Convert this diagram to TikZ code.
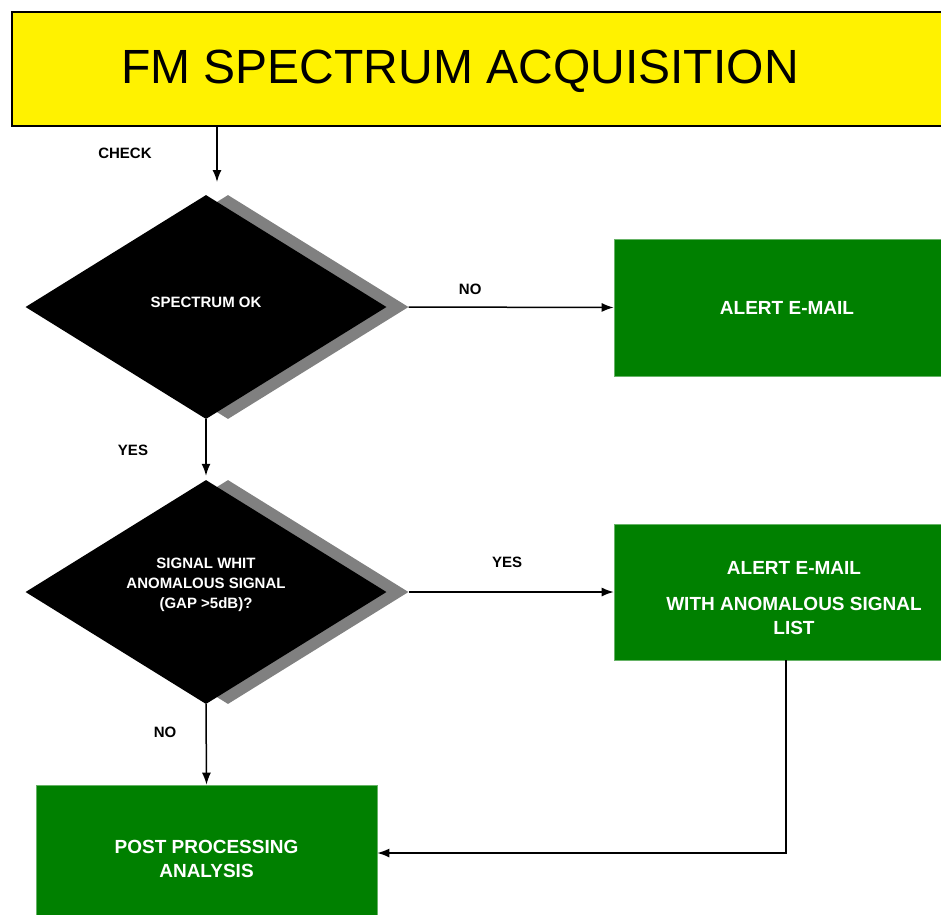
\documentclass[tikz,border=0pt]{standalone}
\usepackage{fontspec}
\setmainfont{Liberation Sans}
\usetikzlibrary{shapes.geometric, shadows, arrows.meta}

\definecolor{boxgreen}{RGB}{0,128,0}
\definecolor{shadowgray}{RGB}{128,128,128}

\tikzset{
	flow/.style={line width=1.5pt, -{Latex[length=12pt,width=9pt]}},
	decision/.style={diamond, fill=black, aspect=1.6, minimum width=361pt, minimum height=224pt, inner sep=0pt, text=white, align=center, font=\bfseries\fontsize{15}{20}\selectfont, general shadow={fill=shadowgray, shadow xshift=22pt, shadow yshift=0pt}},
	action/.style={rectangle, fill=boxgreen, draw=boxgreen!60!white, line width=0.6pt, text=white, align=center, font=\bfseries\fontsize{19}{24}\selectfont},
	tag/.style={font=\bfseries\fontsize{15}{18}\selectfont}
}

\begin{document}
\begin{tikzpicture}[x=1pt, y=-1pt]
	\useasboundingbox (0,0) rectangle (941,914);
	\node[rectangle, fill=yellow, draw=black, line width=1.5pt, minimum width=948pt, minimum height=114pt] (title) at (486,69) {};
	\node[font=\fontsize{48}{56}\selectfont] (titletext) at (460,71) {FM SPECTRUM ACQUISITION};
	\coordinate (checkend) at (217,182);
	\draw[flow] (checkend |- title.south) -- (checkend);
	\node[tag] (check) at (125,153) {CHECK};

	\node[decision] (spec) at (206,307) {\raisebox{0pt}[0pt][0pt]{SPECTRUM OK}};
	\node[decision] (anom) at (206,592) {\raisebox{4pt}[0pt][0pt]{\begin{tabular}{@{}c@{}}SIGNAL WHIT\\ANOMALOUS SIGNAL\\(GAP >5dB)?\end{tabular}}};

	\node[action, minimum width=346pt, minimum height=137pt] (mailA) at (787,307.5) {ALERT E-MAIL};
	\node[action, minimum width=360pt, minimum height=136pt] (mailB) at (794,592) {\raisebox{-12pt}[0pt][0pt]{\begin{tabular}{@{}c@{}}ALERT E-MAIL\\[12pt]WITH ANOMALOUS SIGNAL\\LIST\end{tabular}}};
	\node[action, minimum width=341pt, minimum height=148pt] (post) at (206.5,859) {POST PROCESSING\\ANALYSIS};

	\draw[flow] ([xshift=22pt]spec.east) -- node[tag, above=8pt, pos=0.3] {NO} (mailA.west);
	\draw[flow, shorten >=4pt] (spec.south) -- (anom.north);
	\node[tag] (yesA) at (133,450) {YES};
	\draw[flow] ([xshift=22pt]anom.east) -- node[tag, above=20pt, pos=0.48] {YES} (mailB.west);
	\draw[flow] (anom.south) -- (post.north);
	\node[tag] (noB) at (165,732) {NO};
	\coordinate (bend) at (786,853);
	\draw[flow] (bend |- mailB.south) -- (bend) -- (post.east |- bend);
\end{tikzpicture}
\end{document}
